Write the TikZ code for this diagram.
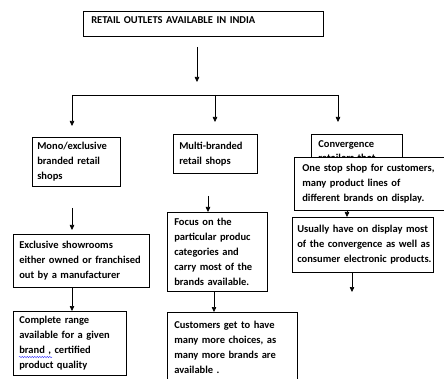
\documentclass[tikz,border=0pt]{standalone}
\usepackage{fontspec}
\setmainfont{Carlito}
\usetikzlibrary{arrows.meta,decorations.pathmorphing}

\begin{document}
\begin{tikzpicture}[x=1pt,y=-1pt,
    box/.style={draw,line width=0.6pt,fill=white,anchor=north west,align=left,
      inner xsep=6pt,inner ysep=2pt,font=\bfseries\fontsize{10.5}{14.8}\selectfont},
    arr/.style={line width=0.6pt,-{Triangle[length=5pt,width=4.5pt]}}]

  \useasboundingbox (0,0) rectangle (444,379);

  % top box
  \node[box, text width=224pt, inner xsep=8pt, inner ysep=3pt, text height=9pt, text depth=10pt] (title) at (83,11) {RETAIL OUTLETS AVAILABLE IN INDIA};

  % left column
  \node[box, text width=78pt, inner xsep=5pt, minimum height=49pt] (mono) at (32,137) {Mono/exclusive\\branded retail\\shops};
  \node[box, text width=124pt, minimum height=53pt] (excl) at (13,234) {Exclusive showrooms\\either owned or franchised\\out by a manufacturer};
  \node[box, text width=101pt, minimum height=64pt] (compl) at (13,311) {Complete range\\available for a given\\brand , certified\\product quality};

  % middle column
  \node[box, text width=72pt, minimum height=39pt] (multi) at (173,134) {Multi-branded\\retail shops};
  \node[box, text width=86pt, inner xsep=7pt, minimum height=79pt] (focus) at (167,212) {Focus on the\\particular produc\\categories and\\carry most of the\\brands available.};
  \node[box, text width=116pt, inner xsep=7pt, minimum height=70pt] (cust) at (167,312) {Customers get to have\\many more choices, as\\many more brands are\\available .};

  % right column
  \node[box, text width=77pt, inner xsep=7pt, inner ysep=6pt] (conv) at (311,134) {Convergence\\retailers that};
  \node[box, text width=135pt, inner xsep=8pt, minimum height=53pt] (onestop) at (294,157) {One stop shop for customers,\\many product lines of\\different brands on display.};
  \node[box, text width=131pt, inner xsep=5pt, minimum height=55pt] (usual) at (292,217) {\mbox{Usually have on display most}\\\mbox{of the convergence as well as}\\\mbox{consumer electronic products.}};

  \coordinate (t1) at (197,47);
  \coordinate (t2) at (197,82);
  \coordinate (hl) at (72,95);
  \coordinate (hm) at (215,95);
  \coordinate (hr) at (338,95);
  \coordinate (dl) at (72,126);
  \coordinate (dm) at (215,122);
  \coordinate (dr) at (338,122);
  \coordinate (m1) at (72,208);
  \coordinate (m2) at (72,230);
  \coordinate (c1) at (208,196);
  \coordinate (c2) at (214,291);
  \coordinate (r1) at (347,210);
  \coordinate (r2) at (352,292);

  \draw[arr] (t1) -- (t2);
  \draw[line width=0.6pt] (hl) -- (hr);
  \draw[arr] (hl) -- (dl);
  \draw[arr] (hm) -- (dm);
  \draw[arr] (hr) -- (dr);

  \draw[arr] (m1) -- (m2);
  \draw[arr] (excl.south -| m1) -- (compl.north -| m1);
  \draw[arr] (c1) -- (focus.north -| c1);
  \draw[arr] (c2) -- (cust.north -| c2);
  \draw[arr] (onestop.south -| r1) -- (usual.north -| r1);
  \draw[arr] (usual.south -| r2) -- (r2);

  % spell check mark
  \draw[blue!80, line width=0.4pt, decorate, decoration={snake,amplitude=0.7pt,segment length=2.5pt}] (19,357) -- (52,357);

\end{tikzpicture}
\end{document}
